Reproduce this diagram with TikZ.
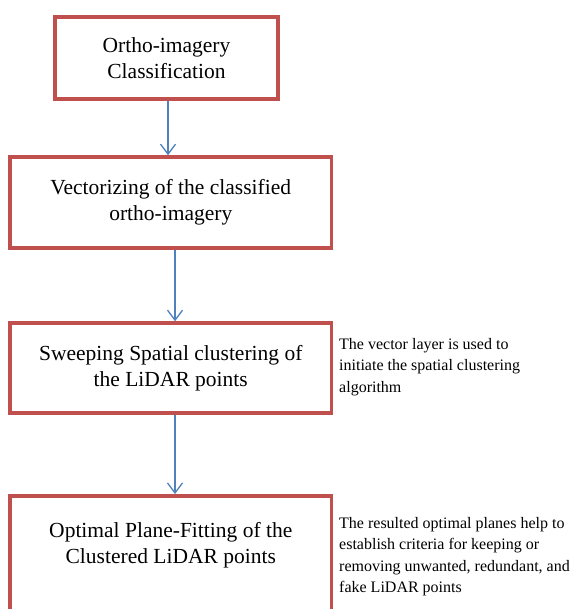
\documentclass[tikz,border=0pt]{standalone}
\usepackage{fontspec}
\setmainfont{Liberation Serif}
\usetikzlibrary{arrows.meta}
\definecolor{boxred}{RGB}{192,80,77}
\definecolor{arrblue}{RGB}{79,129,189}
\begin{document}
\begin{tikzpicture}[x=1pt,y=-1pt,
  box/.style={draw=boxred, line width=3.5pt, align=center, font=\fontsize{21.5}{26.5}\selectfont, inner sep=0pt},
  note/.style={align=left, anchor=north west, font=\fontsize{16}{21.5}\selectfont, inner sep=0pt},
  arr/.style={draw=arrblue, line width=1.3pt, -{Straight Barb[length=10pt,width=15pt]}}]
\path[use as bounding box] (0,0) rectangle (572,609);
\clip (0,0) rectangle (572,609);
\fill[white] (0,0) rectangle (572,609);
\node[box, minimum width=223pt, minimum height=82pt] (b1) at (166.5,58) {Ortho-imagery\\Classification};
\node[box, minimum width=321.5pt, minimum height=91pt] (b2) at (170.75,202.5) {Vectorizing of the classified\\ortho-imagery};
\node[box, minimum width=321.5pt, minimum height=90pt] (b3) at (170.75,368) {Sweeping Spatial clustering of\\the LiDAR points};
\node[box, minimum width=321.5pt, anchor=north, text height=15pt, text depth=100pt, inner ysep=53pt] (b4) at (170.75,494) {Optimal Plane-Fitting of the\\Clustered LiDAR points};
\node[note] (n1) at (339,338) {The vector layer is used to\\initiate the spatial clustering\\algorithm};
\node[note] (n2) at (339,517) {The resulted optimal planes help to\\establish criteria for keeping or\\removing unwanted, redundant, and\\fake LiDAR points};
\draw[arr] ([xshift=1.5pt]b1.south) -- ([xshift=-2.75pt]b2.north);
\draw[arr] ([xshift=4.25pt]b2.south) -- ([xshift=4.25pt]b3.north);
\draw[arr] ([xshift=4.25pt]b3.south) -- ([xshift=4.25pt]b4.north);
\end{tikzpicture}
\end{document}
